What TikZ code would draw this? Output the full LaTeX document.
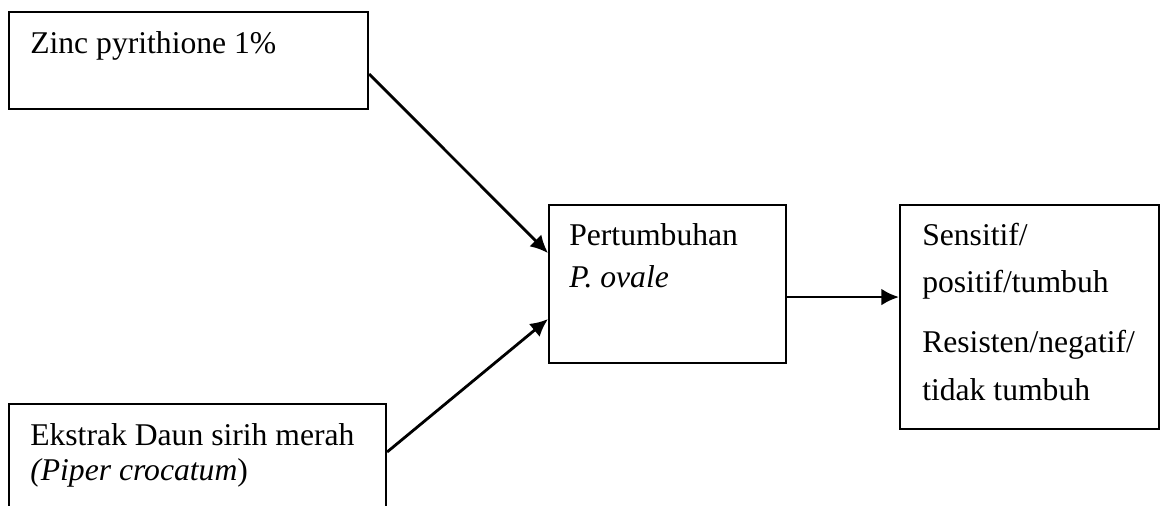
\documentclass[tikz,border=0pt]{standalone}
\usepackage{fontspec}
\setmainfont{Liberation Serif}
\usetikzlibrary{positioning,calc,arrows.meta}

\begin{document}
\begin{tikzpicture}[>={Latex[length=4.4mm,width=4.2mm]},x=0.025cm,y=-0.025cm]
  \tikzstyle{kotak}=[draw,line width=1.5pt,inner sep=0pt,anchor=north west]
  \tikzstyle{teks}=[anchor=base west,inner sep=0pt,font=\fontsize{22.5}{25}\selectfont]
  \tikzstyle{panah}=[->,line width=2pt]
  \clip (0,0) rectangle (1160,506);
  % kotak
  \node[kotak,minimum width=359*0.025cm,minimum height=97*0.025cm] (z) at (8,11) {};
  \node[kotak,minimum width=377*0.025cm,minimum height=140*0.025cm] (e) at (8,403) {};
  \node[kotak,minimum width=237*0.025cm,minimum height=158*0.025cm] (p) at (548,204) {};
  \node[kotak,minimum width=259*0.025cm,minimum height=224*0.025cm] (h) at (899,204) {};
  % teks
  \node[teks] (z1) at (30,53) {Zinc pyrithione 1\%};
  \node[teks] (e1) at (30,445) {Ekstrak Daun sirih merah};
  \node[teks] (e2) at (30,480) {\textit{(Piper crocatum})};
  \node[teks] (p1) at (569,245) {Pertumbuhan};
  \node[teks] (p2) at (569,287) {\textit{P. ovale}};
  \node[teks] (h1) at (922,245) {Sensitif/};
  \node[teks] (h2) at (922,292) {positif/tumbuh};
  \node[teks] (h3) at (922,352) {Resisten/negatif/};
  \node[teks] (h4) at (922,400) {tidak tumbuh};
  % panah
  \draw[panah] ($(z.east)+(0,13.5)$) -- ($(p.west)+(0,-31)$);
  \draw[panah] ($(e.north east)+(0,49)$) -- ($(p.west)+(0,35)$);
  \draw[panah] ($(p.east)+(0,13)$) -- ($(h.west)+(0,-20)$);
\end{tikzpicture}
\end{document}
